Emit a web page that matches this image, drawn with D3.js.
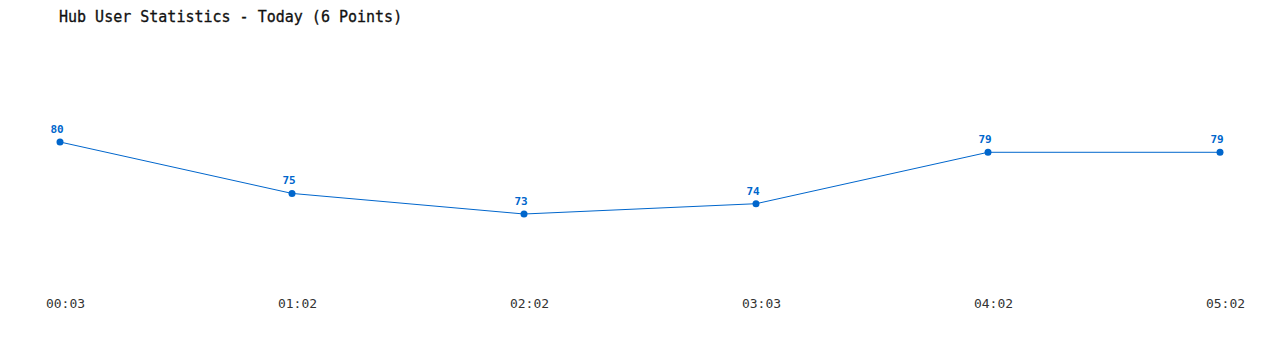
<!DOCTYPE html>
<meta charset="utf-8">
<script src="https://cdn.jsdelivr.net/npm/d3@7/dist/d3.min.js"></script>
<style>
  body { margin: 0; background: #fff; }
  svg text { font-family: "DejaVu Sans Mono", "Liberation Mono", monospace; }
</style>
<svg width="1280" height="350"></svg>
<script>
// chart data
var times = ["00:03", "01:02", "02:02", "03:03", "04:02", "05:02"];
var users = [80, 75, 73, 74, 79, 79];
var title = "Hub User Statistics - Today (6 Points)";

var svg = d3.select("svg"),
  width = +svg.attr("width"),
  height = +svg.attr("height");

var blue = "#0066cc";

//Scales
var x = d3.scalePoint().domain(times).range([60, 1220]);
var y = d3.scaleLinear().domain([73, 80]).range([214, 142]);

//Title
svg.append("text")
  .attr("x", 59)
  .attr("y", 22)
  .attr("font-size", 15)
  .attr("fill", "#111")
  .attr("stroke", "#111")
  .attr("stroke-width", 0.3)
  .text(title);

//X-axis labels
svg.append("g")
  .attr("transform", "translate(5,303)")
  .call(d3.axisBottom(x).tickSize(0).tickPadding(0))
  .call(function(g) {
    g.select(".domain").remove();
    g.selectAll("text")
      .attr("font-size", 13)
      .attr("fill", "#333")
      .attr("dy", "0.35em")
      .attr("font-family", "\"DejaVu Sans Mono\", monospace");
  });

//Line
var line = d3.line()
  .x(function(d, i) { return x(times[i]); })
  .y(function(d) { return y(d); });

svg.append("path")
  .datum(users)
  .attr("fill", "none")
  .attr("stroke", blue)
  .attr("stroke-width", 1)
  .attr("d", line);

//Points
svg.append("g")
  .selectAll("circle")
  .data(users)
  .enter()
  .append("circle")
  .attr("cx", function(d, i) { return x(times[i]); })
  .attr("cy", function(d) { return y(d); })
  .attr("r", 3.5)
  .attr("fill", blue);

//Value labels
svg.append("g")
  .selectAll("text")
  .data(users)
  .enter()
  .append("text")
  .attr("x", function(d, i) { return x(times[i]) - 3; })
  .attr("y", function(d) { return y(d) - 9; })
  .attr("text-anchor", "middle")
  .attr("font-size", 11)
  .attr("font-weight", "bold")
  .attr("fill", blue)
  .text(function(d) { return d; });
</script>
